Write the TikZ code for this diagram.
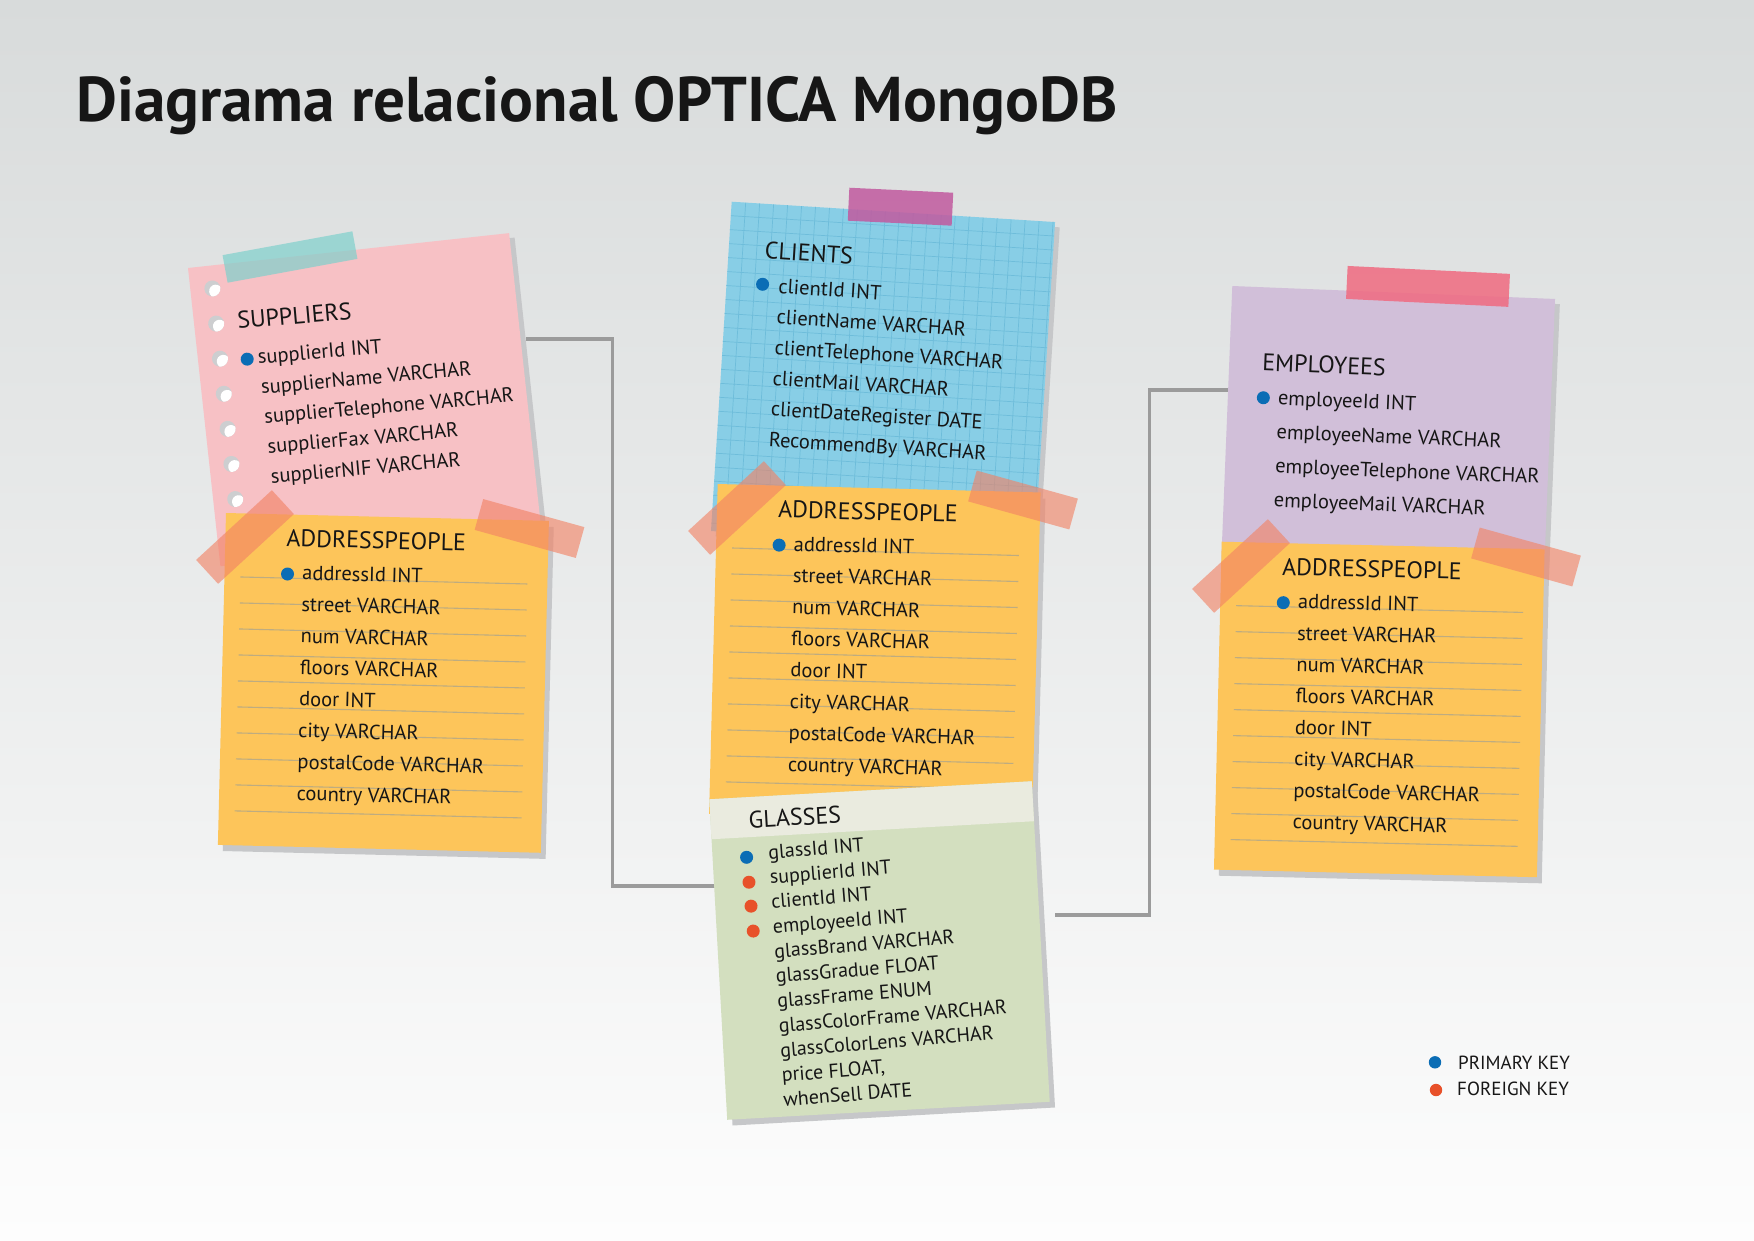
\documentclass[tikz,border=0pt]{standalone}
\usepackage{fontspec}
\setmainfont{PT Sans}
\usetikzlibrary{calc}

\definecolor{bgtop}{RGB}{216,219,219}
\definecolor{bgbot}{RGB}{253,253,253}
\definecolor{ink}{RGB}{22,22,22}
\definecolor{shadowgray}{RGB}{198,199,201}
\definecolor{pinkpaper}{RGB}{247,193,197}
\definecolor{bluepaper}{RGB}{136,206,230}
\definecolor{gridblue}{RGB}{110,189,218}
\definecolor{purplepaper}{RGB}{209,191,217}
\definecolor{yellowpaper}{RGB}{253,197,90}
\definecolor{rulecol}{RGB}{190,172,128}
\definecolor{greenpaper}{RGB}{211,223,191}
\definecolor{greenband}{RGB}{234,235,223}
\definecolor{holegray}{RGB}{205,206,208}
\definecolor{pkblue}{RGB}{11,109,181}
\definecolor{fkred}{RGB}{232,81,42}
\definecolor{linkgray}{RGB}{155,155,155}
\definecolor{tealtape}{RGB}{127,208,204}
\definecolor{magentatape}{RGB}{193,90,159}
\definecolor{redtape}{RGB}{240,106,128}
\definecolor{salmontape}{RGB}{242,130,100}

\pgfdeclarelayer{bg}
\pgfsetlayers{bg,main}

\tikzset{
  head/.style={anchor=base west, inner sep=0pt, text=ink, font=\fontsize{24}{28}\selectfont},
  attr/.style={anchor=base west, inner sep=0pt, text=ink, font=\fontsize{20.5}{24}\selectfont},
  glattr/.style={attr, font=\fontsize{20}{22}\selectfont},
  legendtext/.style={anchor=base west, inner sep=0pt, text=ink, font=\fontsize{19}{22}\selectfont},
  rule/.style={draw=rulecol, line width=1.1pt},
  link/.style={draw=linkgray, line width=3.5pt},
  tapetealstyle/.style={fill=tealtape, fill opacity=0.7},
  tapemagentastyle/.style={fill=magentatape, fill opacity=0.85},
  taperedstyle/.style={fill=redtape, fill opacity=0.85},
  tapesalmonstyle/.style={fill=salmontape, fill opacity=0.62},
}

% a strip of tape: style, centre x, centre y, length, width, angle
\newcommand{\tapestrip}[6]{%
  \fill[#1, shift={(#2,#3)}, rotate=#6] (-#4/2,-#5/2) rectangle (#4/2,#5/2);}

% yellow address sheet: name prefix, x, y, angle, height
\newcommand{\addrnote}[5]{%
  \begin{scope}[shift={(#2,#3)}, rotate=#4, transform shape]
    \fill[shadowgray] (5,6) rectangle (328,#5+6);
    \fill[yellowpaper] (0,0) rectangle (323,#5);
    \foreach \k in {0,...,9} \draw[rule] (16,63.6+26*\k) -- (303,63.6+26*\k);
    \node[head] (#1-title) at (61,32) {ADDRESSPEOPLE};
    \fill[pkblue] (63,59.5) circle[radius=6.5pt];
    \foreach \t [count=\i from 0] in {addressId INT, street VARCHAR, num VARCHAR,
        floors VARCHAR, door INT, city VARCHAR, postalCode VARCHAR, country VARCHAR}
      \node[attr] (#1-a\i) at (77.5,65+31.5*\i) {\t};
  \end{scope}}

\begin{document}
\begin{tikzpicture}[x=1pt,y=-1pt]
\useasboundingbox (0,0) rectangle (1754,1240);
\begin{pgfonlayer}{bg}
  \shade[top color=bgtop, bottom color=bgbot] (0,0) rectangle (1754,1240);
\end{pgfonlayer}

% title
\node[anchor=base west, inner sep=0pt, text=ink,
      font=\fontsize{63.2}{66}\selectfont\bfseries] (title) at (76,121)
      {Diagrama relacional OPTICA MongoDB};

% ---------------- SUPPLIERS ----------------
\begin{scope}[shift={(188,268)}, rotate=6.2, transform shape]
  \fill[shadowgray] (5,5) rectangle (328,305);
  \fill[pinkpaper] (0,0) rectangle (323,300);
  \foreach \k in {0,...,6} {
    \fill[holegray] (22,23+35.3*\k) circle[radius=8pt];
    \begin{scope}
      \clip (22,23+35.3*\k) circle[radius=8pt];
      \fill[white] (25,26+35.3*\k) circle[radius=6.5pt];
    \end{scope}
  }
  \node[head, rotate=-1.2] (sup-title) at (43,66) {SUPPLIERS};
  \fill[pkblue] (49,97) circle[radius=6.5pt];
  \foreach \t [count=\i from 0] in {supplierId INT, supplierName VARCHAR,
      supplierTelephone VARCHAR, supplierFax VARCHAR, supplierNIF VARCHAR}
    \node[attr, rotate=-1.2] (sup-a\i) at (59.5,103+30*\i) {\t};
  \coordinate (sup-e) at (328,107);
\end{scope}
\addrnote{supaddr}{226}{513}{-1.4}{332}
\tapestrip{tapetealstyle}{290}{257}{132}{28}{10.4}
\tapestrip{tapesalmonstyle}{245}{537}{103}{32.5}{42.6}
\tapestrip{tapesalmonstyle}{529.5}{528.5}{105}{32}{-15.5}

% ---------------- CLIENTS ----------------
\begin{scope}[shift={(731.7,201.7)}, rotate=-3.6, transform shape]
  \fill[shadowgray] (5,5) rectangle (329,335);
  \fill[bluepaper] (0,0) rectangle (324,330);
  \foreach \k in {1,...,23} \draw[gridblue, line width=0.7pt] (14*\k,0) -- (14*\k,330);
  \foreach \k in {1,...,23} \draw[gridblue, line width=0.7pt] (0,14*\k) -- (324,14*\k);
  \node[head] (cli-title) at (36,55) {CLIENTS};
  \fill[pkblue] (36,80.5) circle[radius=6.5pt];
  \foreach \t [count=\i from 0] in {clientId INT, clientName VARCHAR,
      clientTelephone VARCHAR, clientMail VARCHAR, clientDateRegister DATE,
      RecommendBy VARCHAR}
    \node[attr] (cli-a\i) at (52,88.5+30.7*\i) {\t};
\end{scope}
\tapestrip{tapemagentastyle}{900.5}{206.7}{104}{33}{-2.75}
\addrnote{cliaddr}{717.7}{484}{-1.5}{330}
\tapestrip{tapesalmonstyle}{737}{508}{103}{32.5}{42.6}
\tapestrip{tapesalmonstyle}{1023}{500}{105}{32}{-15.5}

% ---------------- GLASSES ----------------
\begin{scope}[shift={(709.3,799.3)}, rotate=3.2, transform shape]
  \fill[shadowgray] (5,6) rectangle (328,327);
  \fill[greenpaper] (0,0) rectangle (323,321);
  \fill[greenband] (0,0) rectangle (323,40);
  \node[head] (gl-title) at (38,31) {GLASSES};
  \fill[pkblue] (34,60) circle[radius=6.5pt];
  \fill[fkred] (35,85) circle[radius=6.5pt];
  \fill[fkred] (35.7,109) circle[radius=6.5pt];
  \fill[fkred] (36.5,134) circle[radius=6.5pt];
  \foreach \t [count=\i from 0] in {glassId INT, supplierId INT, clientId INT,
      employeeId INT, glassBrand VARCHAR, glassGradue FLOAT, glassFrame ENUM,
      glassColorFrame VARCHAR, glassColorLens VARCHAR, {price FLOAT,}, whenSell DATE}
    \node[glattr, rotate=1.4] (gl-a\i) at (56+0.1*\i,63+24.8*\i) {\t};
  \coordinate (gl-w) at (2,87);
  \coordinate (gl-e) at (339,135);
\end{scope}

% ---------------- EMPLOYEES ----------------
\begin{scope}[shift={(1232.3,286)}, rotate=-2.3, transform shape]
  \fill[shadowgray] (5,5) rectangle (328,285);
  \fill[purplepaper] (0,0) rectangle (323,280);
  \node[head] (emp-title) at (33,83.4) {EMPLOYEES};
  \fill[pkblue] (35.5,110.4) circle[radius=6.5pt];
  \foreach \t [count=\i from 0] in {employeeId INT, employeeName VARCHAR,
      employeeTelephone VARCHAR, employeeMail VARCHAR}
    \node[attr] (emp-a\i) at (50,117+34*\i) {\t};
  \coordinate (emp-w) at (4,104);
\end{scope}
\tapestrip{taperedstyle}{1428}{286.4}{162.5}{33}{-2.8}
\addrnote{empaddr}{1221.7}{541.7}{-1.35}{328}
\tapestrip{tapesalmonstyle}{1241}{566}{103}{32.5}{42.6}
\tapestrip{tapesalmonstyle}{1526}{557}{105}{32}{-15.5}

% ---------------- legend ----------------
\fill[pkblue] (1435,1062.3) circle[radius=6.2pt];
\fill[fkred] (1436,1090) circle[radius=6.2pt];
\node[legendtext] (leg-pk) at (1458,1069.3) {PRIMARY KEY};
\node[legendtext] (leg-fk) at (1457,1095) {FOREIGN KEY};

% ---------------- connectors ----------------
\begin{pgfonlayer}{bg}
  \draw[link] (sup-e) -- ++(87,0) |- (gl-w);
  \draw[link] (gl-e) -- ++(94,0) |- (emp-w);
\end{pgfonlayer}
\end{tikzpicture}
\end{document}
